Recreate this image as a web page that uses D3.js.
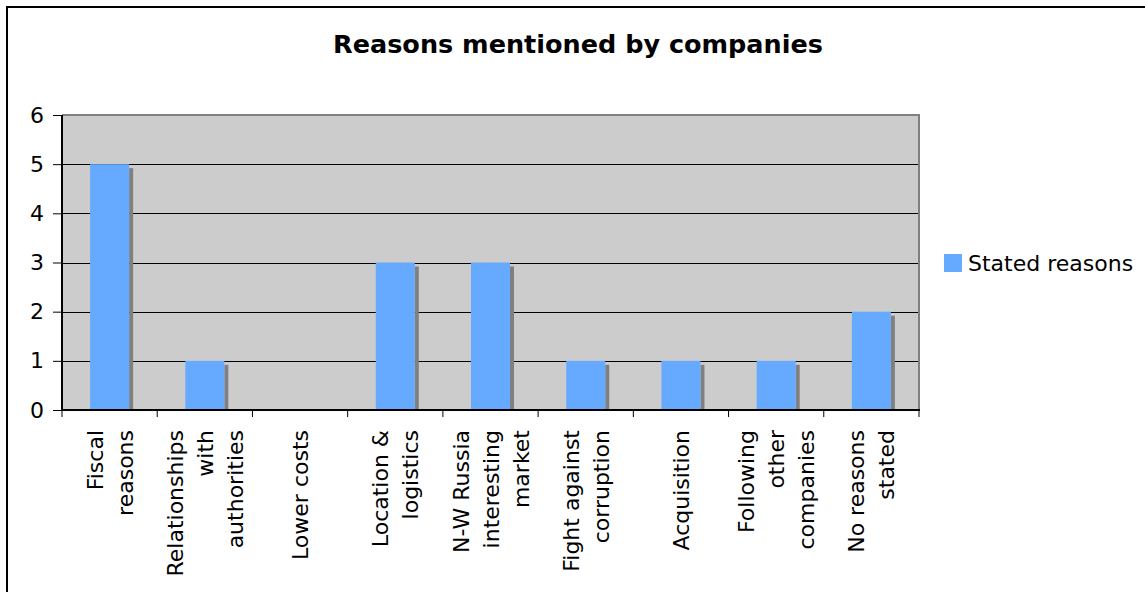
<!DOCTYPE html>
<html><head><meta charset="utf-8">
<script src="https://cdn.jsdelivr.net/npm/d3@7"></script>
<style>
html,body{margin:0;padding:0;background:#fff;}
svg{display:block;font-family:"DejaVu Sans",Verdana,sans-serif;}
</style></head>
<body>
<svg id="chart" width="1145" height="592"></svg>
<script>
const categories = [
  ["Fiscal","reasons"],
  ["Relationships","with","authorities"],
  ["Lower costs"],
  ["Location &","logistics"],
  ["N-W Russia","interesting","market"],
  ["Fight against","corruption"],
  ["Acquisition"],
  ["Following","other","companies"],
  ["No reasons","stated"]
];
const values = [5, 1, 0, 3, 3, 1, 1, 1, 2];
const yTicks = [0, 1, 2, 3, 4, 5, 6];
const seriesName = "Stated reasons";
const titleText = "Reasons mentioned by companies";

const svg = d3.select("#chart");
const L = 62, R = 919, T = 115, B = 410;
const FS = 22;
const keys = categories.map((c, i) => i);

// outer border
svg.append("rect").attr("x", 7).attr("y", 7).attr("width", 1300).attr("height", 800)
  .attr("fill", "none").attr("stroke", "#000").attr("stroke-width", 2);

// title
svg.append("text").attr("x", 578).attr("y", 53).attr("text-anchor", "middle")
  .attr("font-size", 25.5).attr("font-weight", "bold").attr("fill", "#000").text(titleText);

const x = d3.scaleBand().domain(keys).range([L, R]).paddingInner(0.59).paddingOuter(0.295);
const y = d3.scaleLinear().domain([0, 6]).range([B, T]);

// plot background
svg.append("rect").attr("x", L).attr("y", T).attr("width", R - L).attr("height", B - T).attr("fill", "#cccccc");

// gridlines
svg.append("g").selectAll("line").data(yTicks.filter(d => d > 0 && d < 6)).join("line")
  .attr("x1", L).attr("x2", R).attr("y1", d => Math.round(y(d)) + 0.5).attr("y2", d => Math.round(y(d)) + 0.5)
  .attr("stroke", "#000").attr("stroke-width", 1);

// plot border top/right (gray)
svg.append("line").attr("x1", L).attr("x2", R + 1).attr("y1", T).attr("y2", T).attr("stroke", "#808080").attr("stroke-width", 2);
svg.append("line").attr("x1", R).attr("x2", R).attr("y1", T).attr("y2", B).attr("stroke", "#808080").attr("stroke-width", 2);

// bar shadows
svg.append("g").selectAll("rect").data(values).join("rect")
  .attr("x", (d, i) => x(i) + x.bandwidth())
  .attr("y", d => y(d) + 4)
  .attr("width", d => d > 0 ? 4 : 0)
  .attr("height", d => Math.max(0, B - y(d) - 4))
  .attr("fill", "#808080");

// bars
svg.append("g").selectAll("rect").data(values).join("rect")
  .attr("x", (d, i) => x(i))
  .attr("y", d => y(d))
  .attr("width", x.bandwidth())
  .attr("height", d => B - y(d))
  .attr("fill", "#66aaff");

// y axis
const yAxis = d3.axisLeft(y).tickValues(yTicks).tickSize(9).tickPadding(9).tickFormat(d3.format("d"));
const gy = svg.append("g").attr("transform", `translate(${L},0)`).call(yAxis);
gy.select(".domain").attr("stroke", "#000").attr("stroke-width", 2).attr("d", `M0,${T}V${B}`);
gy.selectAll(".tick line").attr("stroke", "#000");
gy.selectAll(".tick text").attr("font-size", FS).attr("font-family", "DejaVu Sans, Verdana, sans-serif").attr("fill", "#000");

// x axis line and boundary ticks
const step = x.step();
svg.append("line").attr("x1", L).attr("x2", R + 1).attr("y1", B).attr("y2", B).attr("stroke", "#000").attr("stroke-width", 2);
svg.append("g").selectAll("line").data(d3.range(categories.length + 1)).join("line")
  .attr("x1", i => L + i * step).attr("x2", i => L + i * step)
  .attr("y1", B).attr("y2", B + 7).attr("stroke", "#000").attr("stroke-width", 1);

// x labels (rotated)
const lab = svg.append("g").selectAll("g").data(categories).join("g")
  .attr("transform", (d, i) => `translate(${x(i) + x.bandwidth() / 2},430) rotate(-90)`);
lab.append("text").attr("text-anchor", "end").attr("font-size", FS).attr("fill", "#000")
  .each(function(lines) {
    const t = d3.select(this);
    const n = lines.length;
    lines.forEach((ln, j) => {
      t.append("tspan").attr("x", 0).attr("y", 8 + (j - (n - 1) / 2) * 30).text(ln);
    });
  });

// legend
svg.append("rect").attr("x", 944).attr("y", 254).attr("width", 18).attr("height", 18).attr("fill", "#66aaff");
svg.append("text").attr("x", 968).attr("y", 271).attr("font-size", FS).attr("fill", "#000").text(seriesName);
</script>
</body></html>
